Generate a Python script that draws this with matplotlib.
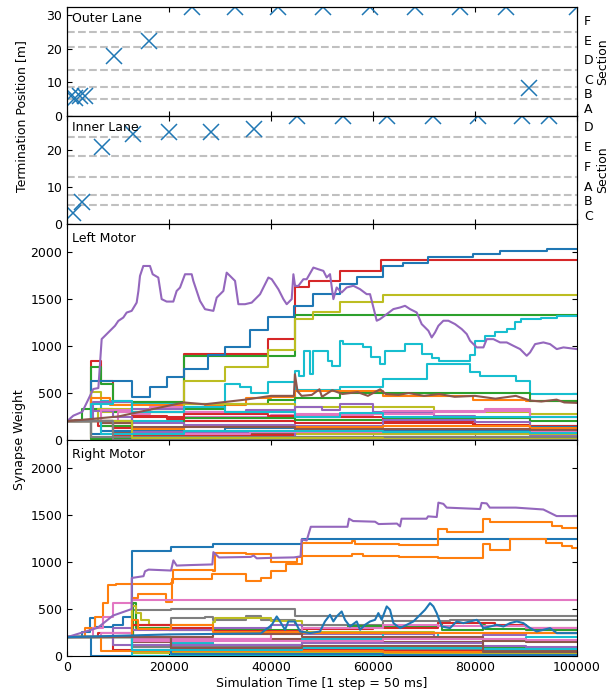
import numpy as np
import matplotlib.pyplot as plt

# --- termination positions (top panels) ---
outer_x = [800, 1600, 2500, 3600, 9200, 16100, 24600, 32900, 41400, 50200,
           59400, 68200, 77100, 86100, 90600, 100000]
outer_y = [6.0, 5.5, 6.0, 6.0, 18.0, 22.5, 32.5, 32.5, 32.5, 32.5,
           32.5, 32.5, 32.5, 32.5, 8.3, 32.5]
inner_x = [1200, 2900, 6900, 13000, 20000, 28300, 36700, 45100, 54100,
           62700, 71800, 80600, 89200, 94500]
inner_y = [2.9, 6.0, 20.7, 24.3, 24.7, 24.7, 25.6, 29, 29, 29, 29, 29, 29, 29]

outer_bounds = [0, 5.0, 8.5, 13.6, 20.6, 25.0, 32.5]
outer_names = ['A', 'B', 'C', 'D', 'E', 'F']
inner_bounds = [0, 5.0, 7.7, 12.7, 18.3, 23.4, 29.0]
inner_names = ['C', 'B', 'A', 'F', 'E', 'D']

# --- left motor synapse weights ---
left_purple = [(0, 200), (1240, 259), (3000, 300), (5160, 543), (6150, 553), (6800, 1075),
               (7450, 1110), (8430, 1163), (9410, 1216), (10060, 1268), (11040, 1304),
               (11700, 1357), (12680, 1375), (13660, 1463), (14000, 1587), (14310, 1747),
               (14960, 1853), (16270, 1853), (16800, 1765), (17900, 1730), (18560, 1500),
               (19540, 1474), (20850, 1474), (21500, 1587), (22160, 1623), (23140, 1765),
               (24450, 1765), (24770, 1694), (26080, 1481), (27060, 1393), (28700, 1375),
               (29350, 1516), (30660, 1587), (31310, 1782), (31970, 1747), (32950, 1694),
               (33600, 1446), (34910, 1446), (36220, 1463), (37850, 1552), (39490, 1730),
               (40140, 1712), (41450, 1605), (42430, 1500), (43080, 1446), (44060, 1500),
               (44390, 1765), (44720, 1641), (45370, 1641), (46350, 1712), (47000, 1712),
               (48310, 1836), (49290, 1818), (50270, 1801), (50920, 1731), (51570, 1766),
               (52230, 1500), (52880, 1624), (53860, 1571), (54840, 1624), (56150, 1642),
               (57460, 1606), (58760, 1553), (59420, 1553), (60730, 1270), (61380, 1287),
               (62690, 1340), (64000, 1394), (65300, 1411), (66280, 1429), (67260, 1394),
               (68570, 1358), (69550, 1234), (70200, 1199), (70860, 1163), (71510, 1092),
               (72160, 1145), (72820, 1216), (73800, 1270), (74780, 1270), (76090, 1234),
               (77400, 1181), (78380, 1128), (79030, 1057), (80340, 986), (81650, 986),
               (82300, 1074), (83610, 1074), (84920, 1039), (86220, 1039), (87530, 1003),
               (88840, 968), (90140, 897), (90800, 933), (91780, 1021), (93410, 1039),
               (94720, 1021), (96030, 968), (97340, 986), (100000, 968)]
left_brown = [(0, 200), (10000, 250), (22900, 400), (27000, 380), (35000, 430), (40000, 470),
              (44500, 470), (44690, 700), (45200, 520), (46000, 470), (48000, 480), (49500, 540),
              (50000, 460), (52000, 530), (54000, 490), (57000, 510), (59000, 470), (61400, 540),
              (62500, 490), (65000, 480), (67000, 500), (70000, 470), (73000, 490), (76000, 460),
              (80000, 470), (84000, 440), (88000, 470), (90800, 420), (93000, 410), (96000, 430),
              (97500, 400), (100000, 395)]
left_steps = [
    # (colour, [(x, y), ...])  step traces
    ('C3', [(0, 200), (1500, 210), (4640, 844), (6600, 630), (9000, 400), (22900, 915),
            (39490, 1075), (44690, 1624), (47400, 1695), (53500, 1801), (61500, 1915)]),
    ('C2', [(0, 200), (4640, 780), (6600, 596), (9000, 400), (22900, 897), (44690, 1333)]),
    ('C0', [(0, 200), (4640, 631), (12680, 454), (16270, 561), (19540, 667), (22900, 755),
            (27670, 908), (30940, 986), (35850, 1170), (39490, 1312), (44500, 1429),
            (48300, 1553), (53540, 1660), (56810, 1738), (62020, 1855), (65940, 1880),
            (70840, 1944), (79670, 1979), (84900, 2015), (94050, 2033)]),
    ('C8', [(0, 200), (4640, 507), (6600, 300), (22900, 631), (30940, 780), (39490, 958),
            (44690, 1287), (48300, 1359), (53540, 1466), (62020, 1546)]),
    ('C9', [(0, 200), (6600, 420), (12680, 380), (30940, 600), (34000, 560), (36000, 500),
            (39490, 620), (44690, 530), (53540, 561), (62020, 649), (70500, 808), (79000, 720),
            (81000, 684), (88000, 631), (90800, 490)]),
    ('C9', [(0, 200), (44690, 738), (45500, 680), (46500, 950), (47650, 702), (48300, 950),
            (51200, 844), (52000, 791), (53540, 1057), (54200, 1021), (58100, 986), (59700, 880),
            (61400, 808), (62350, 950), (66280, 1021), (69600, 915), (71500, 870), (73000, 844),
            (79000, 900), (80000, 1057), (82000, 1110), (84000, 1145), (86200, 1181),
            (87800, 1252), (89000, 1287), (93000, 1300), (96000, 1322)]),
    ('C1', [(0, 200), (4640, 450), (8500, 370), (22900, 380), (27000, 370), (35000, 450),
            (40000, 460), (44690, 520), (62020, 467), (79670, 430), (90000, 410)]),
    ('C2', [(0, 200), (3000, 330), (9000, 300), (22900, 330), (30940, 380), (39490, 430),
            (44690, 447), (53540, 500), (90800, 410)]),
    ('C8', [(0, 200), (6000, 330), (22900, 380), (44690, 350), (72000, 296), (90800, 280)]),
    ('C4', [(0, 200), (5000, 400), (12680, 330), (22900, 300), (35000, 320), (44690, 350),
            (50000, 320), (53540, 380), (60000, 300), (72000, 260), (80000, 230), (90800, 150)]),
    ('C6', [(0, 200), (10000, 300), (22900, 250), (40000, 270), (60000, 280), (72000, 300),
            (82000, 330), (90800, 250)]),
    ('C3', [(0, 200), (6000, 150), (12680, 240), (22900, 200), (44690, 180), (62020, 200),
            (80000, 150), (90800, 120)]),
    ('C0', [(0, 200), (4640, 60), (12680, 40), (44690, 70), (62020, 60), (90800, 90)]),
    ('C1', [(0, 200), (4640, 20), (22900, 30)]),
    ('C2', [(0, 200), (6600, 150), (12680, 100), (22900, 230), (44690, 210), (62020, 230),
            (90800, 200)]),
    ('C3', [(0, 200), (9000, 130), (12680, 260), (19540, 220), (22900, 280), (39490, 260),
            (44690, 240), (62020, 180), (79670, 160), (90800, 150)]),
    ('C4', [(0, 200), (4640, 310), (9000, 250), (12680, 180), (22900, 160), (44690, 150),
            (62020, 210), (80000, 190), (90800, 140)]),
    ('C5', [(0, 200), (9000, 90), (22900, 70), (44690, 110), (70840, 80)]),
    ('C6', [(0, 200), (6600, 320), (12680, 280), (16270, 350), (22900, 300), (44690, 280),
            (62020, 310), (90800, 250)]),
    ('C7', [(0, 200), (4640, 10)]),
    ('C8', [(0, 200), (9000, 40), (22900, 80), (44690, 60), (90800, 50)]),
    ('C9', [(0, 200), (4640, 380), (9000, 410), (12680, 300), (22900, 350), (30940, 300),
            (44690, 250), (53540, 290), (62020, 240)]),
    ('C0', [(0, 200), (6600, 100), (30940, 130), (62020, 110), (90800, 140)]),
    ('C1', [(0, 200), (12680, 120), (22900, 140), (62020, 150), (90800, 130)]),
    ('C2', [(0, 200), (4640, 10), (44690, 20)]),
    ('C3', [(0, 200), (9000, 50), (44690, 90), (90800, 100)]),
    ('C4', [(0, 200), (12680, 80), (44690, 30), (90800, 40)]),
    ('C5', [(0, 200), (6600, 180), (12680, 140), (44690, 120), (90800, 110)]),
    ('C6', [(0, 200), (9000, 60), (35850, 90), (62020, 80)]),
    ('C7', [(0, 200), (4640, 30)]),
    ('C8', [(0, 200), (12680, 20), (62020, 10)]),
    ('C9', [(0, 200), (6600, 60), (22900, 100), (62020, 80), (90800, 70)]),
    ('C7', [(0, 200), (9000, 0)]),
]

# --- right motor synapse weights ---
right_purple = [(0, 200), (6000, 300), (9000, 430), (12680, 500), (12700, 831), (15000, 850),
                (15300, 902), (16000, 920), (20400, 910), (20860, 1018), (21500, 963),
                (24000, 968), (28500, 975), (28700, 1106), (29800, 1049), (36000, 1055),
                (36600, 1070), (37200, 1040), (40000, 1045), (44500, 1050), (45800, 1060),
                (46000, 1241), (47000, 1230), (47800, 1376), (55000, 1376), (55300, 1462),
                (56100, 1437), (60400, 1430), (61100, 1405), (64700, 1410), (65300, 1380),
                (65600, 1462), (70500, 1462), (70800, 1487), (72500, 1480), (72820, 1633),
                (73800, 1620), (74450, 1580), (81000, 1565), (81300, 1630), (82300, 1625),
                (82900, 1580), (88000, 1580), (93400, 1560), (96000, 1490), (100000, 1490)]
right_blue_noisy = [(0, 200), (20000, 230), (38000, 240), (40140, 330), (41120, 421), (41770, 368),
                    (42750, 279), (43400, 368), (44700, 368), (45700, 261), (47650, 244),
                    (49600, 261), (50580, 368), (51570, 439), (52230, 368), (52880, 421),
                    (53860, 474), (54510, 385), (55490, 314), (56810, 368), (57460, 279),
                    (58440, 332), (59420, 368), (60400, 385), (61050, 457), (61700, 385),
                    (62690, 528), (63340, 492), (64000, 350), (65300, 297), (66610, 332),
                    (67920, 368), (69230, 439), (70200, 492), (71180, 563), (71840, 528),
                    (72490, 457), (73470, 314), (75100, 297), (76410, 368), (77720, 350),
                    (79030, 368), (80340, 385), (80990, 350), (81650, 297), (82950, 314),
                    (84260, 332), (85570, 314), (86870, 350), (88180, 368), (89490, 350),
                    (90800, 297), (92100, 261), (93410, 279), (94720, 297), (96030, 244),
                    (100000, 244)]
right_steps = [
    ('C0', [(0, 200), (3000, 260), (4500, 400), (5500, 310), (9000, 330), (11000, 420),
            (12680, 1116), (20400, 1163), (28700, 1188), (46000, 1241)]),
    ('C1', [(0, 200), (3500, 300), (5500, 420), (7000, 560), (8040, 760), (9600, 770),
            (20400, 780), (20800, 920), (28700, 900), (29000, 1100), (35000, 1090),
            (40000, 1000), (45000, 1050), (46000, 1205), (55800, 1220), (56500, 1190),
            (65000, 1180), (72820, 1348), (74500, 1316), (81600, 1462), (83000, 1430),
            (95000, 1380), (97000, 1366)]),
    ('C1', [(0, 200), (12680, 620), (14000, 660), (19500, 580), (20600, 820), (28500, 870),
            (35000, 800), (38000, 830), (40000, 900), (43000, 980), (46000, 1070),
            (55800, 1090), (58000, 1070), (65000, 1050), (72820, 1045), (81600, 1190),
            (83000, 1134), (86800, 1241), (94000, 1205), (97000, 1170), (99000, 1152)]),
    ('C6', [(0, 200), (5000, 300), (7000, 420), (9100, 560), (12680, 600), (60000, 596)]),
    ('C7', [(0, 200), (13000, 485), (20400, 500), (44700, 421)]),
    ('C7', [(0, 200), (13000, 330), (20400, 400), (27000, 420), (28700, 380), (35000, 430),
            (38000, 380), (44700, 330), (62000, 370), (75000, 380)]),
    ('C2', [(0, 200), (13000, 560), (13500, 300), (20000, 280), (46000, 260), (47000, 300),
            (55000, 320), (62000, 310), (72800, 350), (73500, 280), (81600, 330), (82000, 290),
            (90000, 280)]),
    ('C8', [(0, 200), (12680, 530), (13500, 460), (14500, 380), (16000, 330), (28700, 360),
            (29000, 400), (40000, 370), (46000, 260), (72000, 250)]),
    ('C3', [(0, 200), (6000, 250), (12680, 330), (20400, 300), (28700, 270), (46000, 290),
            (60000, 300), (72800, 350), (84000, 330), (90000, 300)]),
    ('C4', [(0, 200), (9000, 300), (12680, 280), (28700, 300), (40000, 330), (46000, 230),
            (72000, 200), (81600, 220), (90000, 250)]),
    ('C5', [(0, 200), (12680, 150), (28700, 180), (46000, 150), (81600, 160), (90000, 150)]),
    ('C6', [(0, 200), (6600, 240), (12680, 180), (40000, 260), (46000, 300), (62000, 330),
            (72800, 320), (90000, 300)]),
    ('C9', [(0, 200), (12680, 100), (20400, 140), (28700, 120), (46000, 180), (62000, 250),
            (72800, 180), (90000, 200)]),
    ('C1', [(0, 200), (12680, 380), (14000, 290), (20400, 330), (28700, 260), (46000, 240),
            (62000, 250), (90000, 240)]),
    ('C7', [(0, 200), (12680, 100), (46000, 60)]),
    ('C0', [(0, 200), (4640, 0)]),
    ('C2', [(0, 200), (20400, 120), (46000, 90), (90000, 80)]),
    ('C3', [(0, 200), (9000, 60), (62000, 50)]),
    ('C8', [(0, 200), (12680, 30), (62000, 20)]),
    ('C9', [(0, 200), (12680, 0)]),
    ('C4', [(0, 200), (9000, 120), (46000, 140), (81600, 110), (90000, 100)]),
    ('C5', [(0, 200), (28700, 230), (46000, 200), (81600, 60), (90000, 50)]),
    ('C6', [(0, 200), (12680, 160), (62000, 180), (90000, 170)]),
    ('C1', [(0, 200), (6600, 50), (62000, 40)]),
    ('C0', [(0, 200), (20400, 20), (62000, 10)]),
    ('C9', [(0, 200), (12680, 60), (46000, 80), (81600, 70)]),
    ('C5', [(0, 200), (20400, 90), (46000, 110), (81600, 40)]),
]

t_max = 100000

fig = plt.figure(figsize=(6.13, 6.96), dpi=100)
plt.rcParams['font.size'] = 9
gs = fig.add_gridspec(4, 1, height_ratios=[109, 108, 216, 216], hspace=0,
                      left=67/613, right=577/613, top=1 - 7/696, bottom=1 - 656/696)
axes = [fig.add_subplot(gs[i]) for i in range(4)]
for ax in axes[1:]:
    ax.sharex(axes[0])


def lane_panel(ax, xs, ys, bounds, names, title):
    top = bounds[-1]
    for b in bounds[1:-1]:
        ax.axhline(b, color='#c0c0c0', ls='--', lw=1.5, zorder=1)
    ax.plot(xs, ys, 'x', color='C0', ms=11, mew=1.1, zorder=3)
    ax.set_ylim(0, top)
    ax.set_yticks([0, 10, 20, 30])
    ax.set_ylim(0, top)
    ax.text(0.01, 0.955, title, transform=ax.transAxes, va='top', ha='left')
    ax.tick_params(direction='in', top=True, right=False)
    ax2 = ax.twinx()
    ax2.set_ylim(0, top)
    mids = [(bounds[i] + bounds[i + 1]) / 2 for i in range(len(names))]
    ax2.set_yticks(mids)
    ax2.set_yticklabels(names)
    ax2.tick_params(length=0, pad=5)
    ax2.set_ylabel('Section', labelpad=2)


lane_panel(axes[0], outer_x, outer_y, outer_bounds, outer_names, 'Outer Lane')
lane_panel(axes[1], inner_x, inner_y, inner_bounds, inner_names, 'Inner Lane')


def motor_panel(ax, steps, noisy, title):
    for color, pts in steps:
        xs = [p[0] for p in pts] + [t_max]
        ys = [p[1] for p in pts] + [pts[-1][1]]
        ax.plot(xs, ys, drawstyle='steps-post', color=color, lw=1.5)
    for color, pts in noisy:
        ax.plot([p[0] for p in pts], [p[1] for p in pts], color=color, lw=1.5)
    ax.set_ylim(0, 2300)
    ax.set_yticks([0, 500, 1000, 1500, 2000])
    ax.text(0.01, 0.965, title, transform=ax.transAxes, va='top', ha='left')
    ax.tick_params(direction='in', top=True, right=True)


motor_panel(axes[2], left_steps, [('C4', left_purple), ('C5', left_brown)], 'Left Motor')
motor_panel(axes[3], right_steps, [('C4', right_purple), ('C0', right_blue_noisy)], 'Right Motor')

axes[0].set_xlim(0, t_max)
axes[0].set_xticks(np.arange(0, 100001, 20000))
for ax in axes[:3]:
    ax.tick_params(labelbottom=False)
axes[3].set_xlabel('Simulation Time [1 step = 50 ms]', labelpad=2)

fig.text(22/613, 1 - 116/696, 'Termination Position [m]', rotation=90, va='center', ha='center')
fig.text(20/613, 1 - 440/696, 'Synapse Weight', rotation=90, va='center', ha='center')

fig.savefig('out.png', dpi=100)
